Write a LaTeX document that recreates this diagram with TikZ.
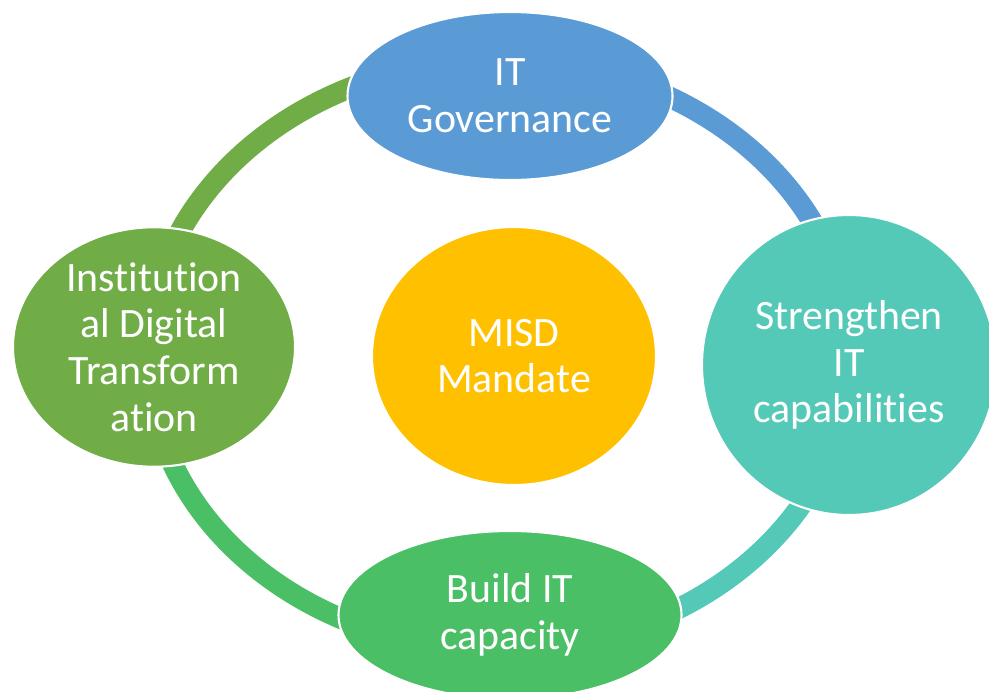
\documentclass[tikz,border=0pt]{standalone}
\usepackage{fontspec}
\setmainfont{Carlito}[Ligatures=CommonOff]
\usepackage{tikz}
\usetikzlibrary{shapes.geometric}

\definecolor{govblue}{HTML}{5B9BD5}
\definecolor{capteal}{HTML}{55C9B7}
\definecolor{buildgreen}{HTML}{4ABF66}
\definecolor{instgreen}{HTML}{71AD47}
\definecolor{misdgold}{HTML}{FFC000}

\begin{document}
\begin{tikzpicture}[
  blob/.style={ellipse, draw=white, line width=1.2pt, inner sep=0pt, text=white,
    align=center, font=\fontsize{23.8}{26.6}\selectfont},
  ring/.style={line width=0.42cm}
  ]
  \clip (0,0) rectangle (19.78,-13.82);
  \coordinate (ringc) at (9.98,-7.1);
  \coordinate (rleft) at ([shift={(180:7.02 and 5.9)}]ringc);
  \coordinate (rtop) at ([shift={(90:7.02 and 5.9)}]ringc);
  \coordinate (rright) at ([shift={(0:7.02 and 5.9)}]ringc);
  \coordinate (rbottom) at ([shift={(270:7.02 and 5.9)}]ringc);
  \draw [ring, instgreen] (rleft) arc [start angle=180, end angle=90, x radius=7.02, y radius=5.9];
  \draw [ring, govblue] (rtop) arc [start angle=90, end angle=0, x radius=7.02, y radius=5.9];
  \draw [ring, capteal] (rright) arc [start angle=0, end angle=-90, x radius=7.02, y radius=5.9];
  \draw [ring, buildgreen] (rbottom) arc [start angle=270, end angle=180, x radius=7.02, y radius=5.9];
  \node [blob, fill=govblue, minimum width=6.5cm, minimum height=3.36cm] (gov) at (10.2,-1.92) {IT\\Governance};
  \node [blob, fill=instgreen, minimum width=5.64cm, minimum height=4.78cm] (inst) at (3.08,-6.94) {Institution\\al Digital\\Transform\\ation};
  \node [blob, fill=misdgold, minimum width=5.68cm, minimum height=5.16cm] (misd) at (10.28,-7.12) {MISD\\Mandate};
  \node [blob, fill=capteal, minimum width=5.88cm, minimum height=6cm] (cap) at (16.98,-7.3) {Strengthen\\IT\\capabilities};
  \node [blob, fill=buildgreen, minimum width=6.86cm, minimum height=3.36cm] (build) at (10.2,-12.3) {Build IT\\capacity};
\end{tikzpicture}
\end{document}
